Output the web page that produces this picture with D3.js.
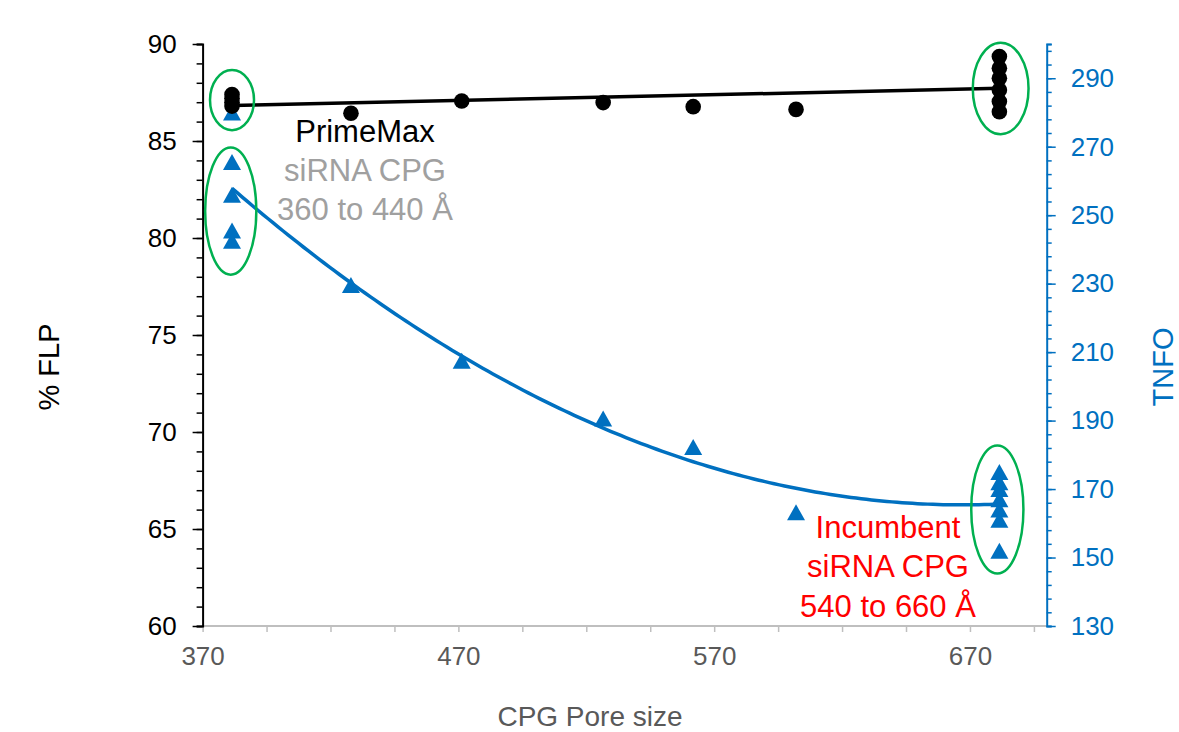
<!DOCTYPE html>
<html>
<head>
<meta charset="utf-8">
<script src="https://cdn.jsdelivr.net/npm/d3@7"></script>
<style>
  body { margin: 0; background: #fff; }
  text { font-family: Arial, "Liberation Sans", sans-serif; }
</style>
</head>
<body>
<svg id="plot" width="1179" height="732"></svg>
<script>
// %FLP (left axis), black circles
const flpPore  = [381.5, 381.5, 381.5, 381.5, 428, 471.3, 526.6, 561.8, 602, 681.5, 681.5, 681.5, 681.5, 681.5, 681.5];
const flpValue = [87.4, 87.2, 87.0, 86.8, 86.43, 87.06, 86.98, 86.77, 86.63, 89.35, 88.75, 88.23, 87.63, 87.03, 86.51];

// TNFO (right axis), blue triangles
const tnfoPore  = [381.5, 381.5, 381.5, 381.5, 381.5, 428, 471.3, 526.6, 561.8, 602, 681.5, 681.5, 681.5, 681.5, 681.5, 681.5, 681.5];
const tnfoValue = [280, 265.5, 256, 245.5, 242.5, 229.6, 207.5, 190.6, 182.3, 163.2, 175, 172, 170, 167, 164, 161, 152];

// tick labels
const xTicks = [370, 470, 570, 670];
const yLeftTicks = [60, 65, 70, 75, 80, 85, 90];
const yRightTicks = [130, 150, 170, 190, 210, 230, 250, 270, 290];

// green ellipses (centre in pore / %FLP units, radii in the same units)
const ringPore = [381.5, 381, 682, 680.7];
const ringFLP  = [87.11, 81.39, 87.71, 66.01];
const ringRx   = [8.6, 10, 10.9, 10.2];
const ringRy   = [1.55, 3.28, 2.36, 3.3];

const blue = "#0070c0";
const svg = d3.select("#plot");

const x  = d3.scaleLinear().domain([370, 700]).range([202.6, 1046.7]);
const yL = d3.scaleLinear().domain([60, 90]).range([626, 44]);
const yR = d3.scaleLinear().domain([130, 300]).range([626, 44]);

// axes
const gx = svg.append("g").attr("transform", "translate(0,626)");
gx.call(d3.axisBottom(x).tickValues(d3.range(370, 701, 25)).tickSize(6).tickFormat(""));
gx.call(g => g.select(".domain").remove());
const gx2 = svg.append("g").attr("transform", "translate(0,626)")
  .call(d3.axisBottom(x).tickValues(xTicks).tickSize(0).tickPadding(21).tickFormat(d3.format("d")));
gx2.select(".domain").remove();
gx2.selectAll("text").attr("font-size", 26).attr("fill", "#595959");
svg.append("line").attr("x1", x(370)).attr("x2", x(700)).attr("y1", 626).attr("y2", 626)
  .attr("stroke", "#bfbfbf").attr("stroke-width", 2);
gx.selectAll(".tick line").attr("stroke", "#bfbfbf").attr("stroke-width", 1.5);

const gl = svg.append("g").attr("transform", "translate(" + x(370) + ",0)");
gl.call(d3.axisLeft(yL).tickValues(d3.range(60, 91, 1)).tickSize(6).tickFormat(""));
gl.selectAll(".tick line").attr("stroke-width", 1.5);
gl.select(".domain").attr("stroke-width", 2);
const gl2 = svg.append("g").attr("transform", "translate(" + x(370) + ",0)")
  .call(d3.axisLeft(yL).tickValues(yLeftTicks).tickSize(10).tickPadding(16));
gl2.select(".domain").remove();
gl2.selectAll(".tick line").attr("stroke-width", 1.5);
gl2.selectAll("text").attr("font-size", 26).attr("fill", "#000");

const gr = svg.append("g").attr("transform", "translate(" + x(700) + ",0)");
gr.call(d3.axisRight(yR).tickValues(d3.range(130, 301, 4).concat([300])).tickSize(5).tickFormat(""));
gr.selectAll(".tick line").attr("stroke", blue).attr("stroke-width", 1.5);
gr.select(".domain").attr("stroke", blue).attr("stroke-width", 2);
const gr2 = svg.append("g").attr("transform", "translate(" + x(700) + ",0)")
  .call(d3.axisRight(yR).tickValues(yRightTicks).tickSize(9).tickPadding(15));
gr2.select(".domain").remove();
gr2.selectAll(".tick line").attr("stroke", blue).attr("stroke-width", 1.5);
gr2.selectAll("text").attr("font-size", 26).attr("fill", blue);

// axis titles
svg.append("text").attr("x", 590).attr("y", 726).attr("text-anchor", "middle")
  .attr("font-size", 28).attr("fill", "#595959").text("CPG Pore size");
svg.append("text").attr("transform", "translate(59,367) rotate(-90)").attr("text-anchor", "middle")
  .attr("font-size", 29).attr("fill", "#000").text("% FLP");
svg.append("text").attr("transform", "translate(1173,367) rotate(-90)").attr("text-anchor", "middle")
  .attr("font-size", 29).attr("fill", blue).text("TNFO");

// trend lines (least squares, like the spreadsheet did)
function linFit(xs, ys) {
  const mx = d3.mean(xs), my = d3.mean(ys);
  let sxy = 0, sxx = 0;
  xs.forEach((v, i) => { sxy += (v - mx) * (ys[i] - my); sxx += (v - mx) * (v - mx); });
  const b = sxy / sxx;
  return t => my + b * (t - mx);
}
function quadFit(xs, ys) {
  const o = d3.mean(xs);
  const s = [0, 0, 0, 0, 0], t = [0, 0, 0];
  xs.forEach((v, i) => {
    const u = v - o;
    for (let k = 0; k < 5; k++) s[k] += Math.pow(u, k);
    for (let k = 0; k < 3; k++) t[k] += ys[i] * Math.pow(u, k);
  });
  const det3 = m => m[0][0] * (m[1][1] * m[2][2] - m[1][2] * m[2][1])
                  - m[0][1] * (m[1][0] * m[2][2] - m[1][2] * m[2][0])
                  + m[0][2] * (m[1][0] * m[2][1] - m[1][1] * m[2][0]);
  const A = [[s[0], s[1], s[2]], [s[1], s[2], s[3]], [s[2], s[3], s[4]]];
  const D = det3(A);
  const c = [0, 1, 2].map(j => det3(A.map((row, r) => row.map((val, col) => col === j ? t[r] : val))) / D);
  return v => c[0] + c[1] * (v - o) + c[2] * (v - o) * (v - o);
}

// blue triangles
const tri = "M0,-8L9,8L-9,8Z";
svg.append("g").selectAll("path").data(tnfoPore).enter().append("path")
  .attr("d", tri)
  .attr("transform", (d, i) => "translate(" + x(d) + "," + yR(tnfoValue[i]) + ")")
  .attr("fill", blue);

// black circles
svg.append("g").selectAll("circle").data(flpPore).enter().append("circle")
  .attr("cx", d => x(d))
  .attr("cy", (d, i) => yL(flpValue[i]))
  .attr("r", 7.8)
  .attr("fill", "#000");

const fLin = linFit(flpPore, flpValue);
const xMin = d3.min(flpPore), xMax = d3.max(flpPore);
svg.append("line")
  .attr("x1", x(xMin)).attr("y1", yL(fLin(xMin)))
  .attr("x2", x(xMax)).attr("y2", yL(fLin(xMax)))
  .attr("stroke", "#000").attr("stroke-width", 3.5);

const fQuad = quadFit(tnfoPore, tnfoValue);
const steps = d3.range(d3.min(tnfoPore), d3.max(tnfoPore) + 0.01, 2);
svg.append("path")
  .datum(steps)
  .attr("d", d3.line().x(d => x(d)).y(d => yR(fQuad(d))))
  .attr("fill", "none").attr("stroke", blue).attr("stroke-width", 3.5);

// green rings
svg.append("g").selectAll("ellipse").data(ringPore).enter().append("ellipse")
  .attr("cx", d => x(d))
  .attr("cy", (d, i) => yL(ringFLP[i]))
  .attr("rx", (d, i) => x(370 + ringRx[i]) - x(370))
  .attr("ry", (d, i) => yL(60) - yL(60 + ringRy[i]))
  .attr("fill", "none").attr("stroke", "#00b050").attr("stroke-width", 2.5);

// annotations
function note(lines, cx, y0, colors) {
  lines.forEach((l, i) => {
    svg.append("text").attr("x", cx).attr("y", y0 + i * 39.3)
      .attr("text-anchor", "middle").attr("font-size", 31)
      .attr("fill", colors[i]).text(l);
  });
}
note(["PrimeMax", "siRNA CPG", "360 to 440 Å"], 365, 141.5, ["#000", "#a0a0a0", "#a0a0a0"]);
note(["Incumbent", "siRNA CPG", "540 to 660 Å"], 888, 538, ["#ff0000", "#ff0000", "#ff0000"]);
</script>
</body>
</html>
